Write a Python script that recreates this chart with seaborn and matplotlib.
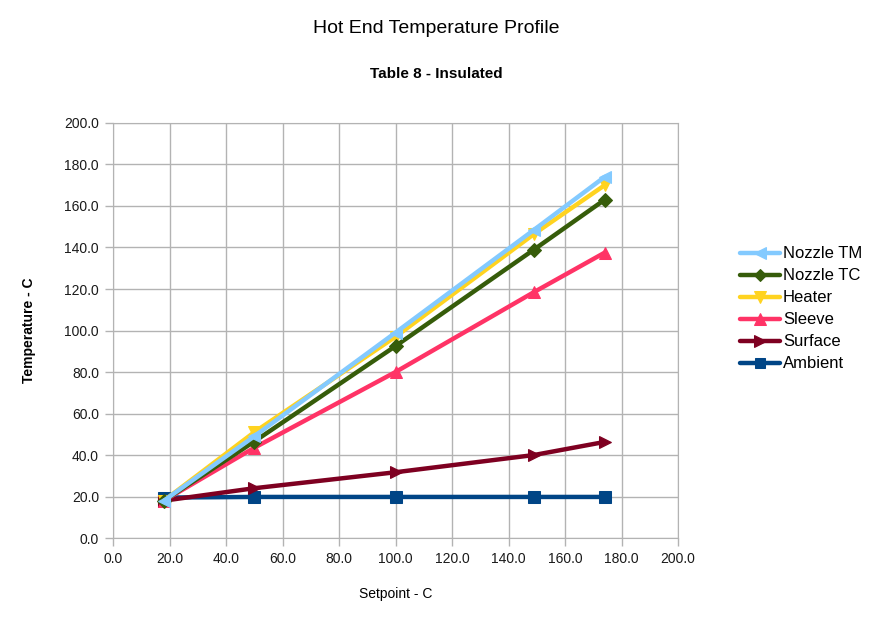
import pandas as pd
import seaborn as sns
from matplotlib import pyplot as plt
from matplotlib.ticker import FormatStrFormatter

# setpoints (x) shared by every series
setpoint = [18, 50, 100, 149, 174]

# measured temperatures per probe
nozzle_tm = [18, 49, 99, 148.5, 174]
nozzle_tc = [18, 46.5, 92.5, 139, 163]
heater = [18, 51, 97, 146.5, 170]
sleeve = [18, 43.5, 80, 118.5, 137.5]
surface = [18, 24, 31.7, 40, 46.3]
ambient = [19.5, 19.8, 19.8, 19.8, 19.8]

series_names = ["Nozzle TM", "Nozzle TC", "Heater", "Sleeve", "Surface", "Ambient"]
series_values = [nozzle_tm, nozzle_tc, heater, sleeve, surface, ambient]

colors = {"Nozzle TM": "#83caff", "Nozzle TC": "#365c0a", "Heater": "#ffd320",
          "Sleeve": "#ff3366", "Surface": "#7e0021", "Ambient": "#004586"}
markers = {"Nozzle TM": "<", "Nozzle TC": "D", "Heater": "v",
           "Sleeve": "^", "Surface": ">", "Ambient": "s"}
marker_sizes = {"Nozzle TM": 9, "Nozzle TC": 7, "Heater": 9,
                "Sleeve": 9, "Surface": 9, "Ambient": 8}

df = pd.DataFrame([
    {"series": name, "setpoint": x, "temp": y}
    for name, vals in zip(series_names, series_values)
    for x, y in zip(setpoint, vals)
])

sns.set_style("white")
plt.rcParams["font.family"] = ["Liberation Sans", "DejaVu Sans"]
plt.rcParams["text.color"] = "black"
plt.rcParams["axes.labelcolor"] = "black"

fig = plt.figure(figsize=(8.72, 6.18), dpi=100)
ax = fig.add_axes([0.1296, 0.1294, 0.648, 0.6716])

# draw bottom series first so Nozzle TM ends on top
for name in reversed(series_names):
    sub = df[df["series"] == name]
    sns.lineplot(data=sub, x="setpoint", y="temp", ax=ax, color=colors[name],
                 marker=markers[name], markersize=marker_sizes[name],
                 markeredgecolor=colors[name], linewidth=3.2, label=name,
                 legend=False, estimator=None)

ax.set_xlim(0, 200)
ax.set_ylim(0, 200)
ax.set_xticks(range(0, 201, 20))
ax.set_yticks(range(0, 201, 20))
ax.xaxis.set_major_formatter(FormatStrFormatter("%.1f"))
ax.yaxis.set_major_formatter(FormatStrFormatter("%.1f"))
ax.grid(True, color="#b3b3b3", linewidth=1)
ax.set_axisbelow(True)
for sp in ax.spines.values():
    sp.set_color("#b3b3b3")
ax.tick_params(axis="both", which="major", length=6, width=1, color="#b3b3b3",
               labelsize=10, labelcolor="#1a1a1a", direction="out",
               bottom=True, left=True, pad=4)

ax.set_xlabel("Setpoint - C", fontsize=10, labelpad=15)
ax.set_ylabel("Temperature - C", fontsize=10, fontweight="bold", labelpad=20)

fig.text(0.5, 0.954, "Hot End Temperature Profile", ha="center", va="center",
         fontsize=14)
fig.text(0.5, 0.880, "Table 8 - Insulated", ha="center", va="center",
         fontsize=11, fontweight="bold")

handles, labels = ax.get_legend_handles_labels()
order = [labels.index(n) for n in series_names]
fig.legend([handles[i] for i in order], [labels[i] for i in order],
           loc="center left", bbox_to_anchor=(0.849, 0.5), frameon=False,
           fontsize=12, handlelength=2.4, handletextpad=0.15, labelspacing=0.42,
           markerscale=0.9, borderpad=0, borderaxespad=0)

fig.savefig("out.png", dpi=100)
